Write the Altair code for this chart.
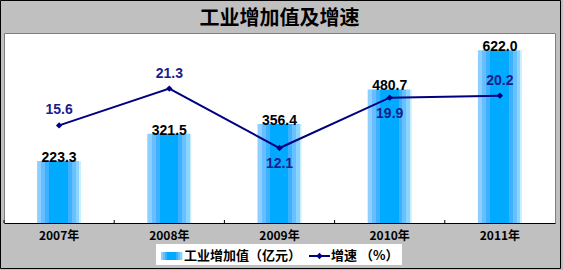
import altair as alt
import pandas as pd

# ---- data ----
years = ["2007年", "2008年", "2009年", "2010年", "2011年"]
values = [223.3, 321.5, 356.4, 480.7, 622.0]        # 工业增加值（亿元）
growth = [15.6, 21.3, 12.1, 19.9, 20.2]             # 增速（%）
title_text = "工业增加值及增速"
legend_bar = "工业增加值（亿元）"
legend_line = "增速 （%）"

df = pd.DataFrame({"year": years, "value": values, "growth": growth})

W, H = 551, 190
CJK = "Noto Sans CJK SC"
NUM = "Liberation Sans"
NAVY = "#000080"

bar_grad = alt.LinearGradient(
    gradient="linear", x1=0, x2=1, y1=0, y2=0,
    stops=[
        alt.GradientStop(color="#8DCFFF", offset=0.0),
        alt.GradientStop(color="#8DCFFF", offset=0.10),
        alt.GradientStop(color="#66BDFF", offset=0.10),
        alt.GradientStop(color="#66BDFF", offset=0.19),
        alt.GradientStop(color="#3DB0FF", offset=0.19),
        alt.GradientStop(color="#3DB0FF", offset=0.28),
        alt.GradientStop(color="#00AAFF", offset=0.28),
        alt.GradientStop(color="#00AAFF", offset=0.70),
        alt.GradientStop(color="#3DB0FF", offset=0.70),
        alt.GradientStop(color="#3DB0FF", offset=0.79),
        alt.GradientStop(color="#66C2FF", offset=0.79),
        alt.GradientStop(color="#66C2FF", offset=0.88),
        alt.GradientStop(color="#8DD3FF", offset=0.88),
        alt.GradientStop(color="#8DD3FF", offset=0.96),
        alt.GradientStop(color="#C8F0FF", offset=0.96),
        alt.GradientStop(color="#C8F0FF", offset=1.0),
    ],
)

xscale = alt.Scale(domain=years, paddingInner=0, paddingOuter=0)
xaxis = alt.Axis(labelAngle=0, ticks=False, domainColor="black",
                 domainWidth=1, labelFont=CJK, labelFontSize=12,
                 labelFontWeight="bold", labelColor="black",
                 labelPadding=12, labelBaseline="middle", grid=False)
x_enc = alt.X("year:N", sort=years, title=None, scale=xscale, axis=xaxis)

ybar = alt.Scale(domain=[0, 684], nice=False, zero=True)
yline = alt.Scale(domain=[0.5, 29.9], nice=False, zero=False)

base = alt.Chart(df)

bars = base.mark_bar(size=44, color=bar_grad).encode(
    x=x_enc, y=alt.Y("value:Q", scale=ybar, axis=None))

bar_labels = base.mark_text(baseline="alphabetic", dy=1, font=NUM, fontSize=14,
                            fontWeight="bold", color="black").encode(
    x=x_enc, y=alt.Y("value:Q", scale=ybar, axis=None),
    text=alt.Text("value:Q", format=".1f"))

ticks = base.mark_rule(color="black", strokeWidth=1).encode(
    x=alt.X("year:N", sort=years, title=None, scale=xscale, axis=xaxis, bandPosition=0),
    y=alt.value(H - 3), y2=alt.value(H))

line = base.mark_line(color=NAVY, strokeWidth=2).encode(
    x=x_enc, y=alt.Y("growth:Q", scale=yline, axis=None))

points = base.mark_point(shape="diamond", filled=True, size=40, color=NAVY, opacity=1).encode(
    x=x_enc, y=alt.Y("growth:Q", scale=yline, axis=None))

below = ["2009年", "2010年"]
lab_above = base.transform_filter(
    ~alt.FieldOneOfPredicate(field="year", oneOf=below)
).mark_text(baseline="alphabetic", dy=-11, font=NUM, fontSize=14, fontWeight="bold",
            color="#1C1C8A").encode(
    x=x_enc, y=alt.Y("growth:Q", scale=yline, axis=None),
    text=alt.Text("growth:Q", format=".1f"))
lab_below = base.transform_filter(
    alt.FieldOneOfPredicate(field="year", oneOf=below)
).mark_text(baseline="top", dy=9, font=NUM, fontSize=14, fontWeight="bold",
            color="#1C1C8A").encode(
    x=x_enc, y=alt.Y("growth:Q", scale=yline, axis=None),
    text=alt.Text("growth:Q", format=".1f"))

# ---- decorations: title, outer frame and legend ----
one = alt.Chart(pd.DataFrame({"k": [0]}))
title = alt.Chart(pd.DataFrame({"t": [title_text]})).mark_text(
    align="center", baseline="middle", font=CJK, fontSize=20, fontWeight="bold",
    color="black").encode(x=alt.value(W / 2), y=alt.value(-14.5), text="t:N")

frame = one.mark_rect(fillOpacity=0, stroke="black", strokeWidth=1).encode(
    x=alt.value(-3.5), x2=alt.value(556.5), y=alt.value(-32.5), y2=alt.value(235.5))

leg_box = one.mark_rect(fill="white").encode(
    x=alt.value(152), x2=alt.value(398), y=alt.value(211), y2=alt.value(232))
leg_swatch = one.mark_rect(color=bar_grad).encode(
    x=alt.value(157), x2=alt.value(179), y=alt.value(219), y2=alt.value(227))
leg_rule = one.mark_rule(color=NAVY, strokeWidth=2).encode(
    x=alt.value(305), x2=alt.value(326), y=alt.value(223))
leg_pt = one.mark_point(shape="diamond", filled=True, size=40, color=NAVY, opacity=1).encode(
    x=alt.value(315.5), y=alt.value(223))
leg_t1 = alt.Chart(pd.DataFrame({"t": [legend_bar]})).mark_text(
    align="left", baseline="middle", font=CJK, fontSize=13, fontWeight="bold",
    color="black").encode(x=alt.value(180), y=alt.value(222.5), text="t:N")
leg_t2 = alt.Chart(pd.DataFrame({"t": [legend_line]})).mark_text(
    align="left", baseline="middle", font=CJK, fontSize=13, fontWeight="bold",
    color="black").encode(x=alt.value(327), y=alt.value(222.5), text="t:N")

chart = alt.layer(
    bars, ticks, bar_labels, line, points, lab_above, lab_below,
    title, frame, leg_box, leg_swatch, leg_rule, leg_pt, leg_t1, leg_t2,
).resolve_scale(y="independent").properties(
    width=W, height=H,
    background="#C0C0C0",
    padding={"left": 4, "top": 33, "right": 8, "bottom": 47},
    autosize=alt.AutoSizeParams(type="none"),
).configure_view(fill="white", stroke="#808080", strokeWidth=1)

chart.save("out.html", embed_options={"renderer": "svg", "actions": False})
